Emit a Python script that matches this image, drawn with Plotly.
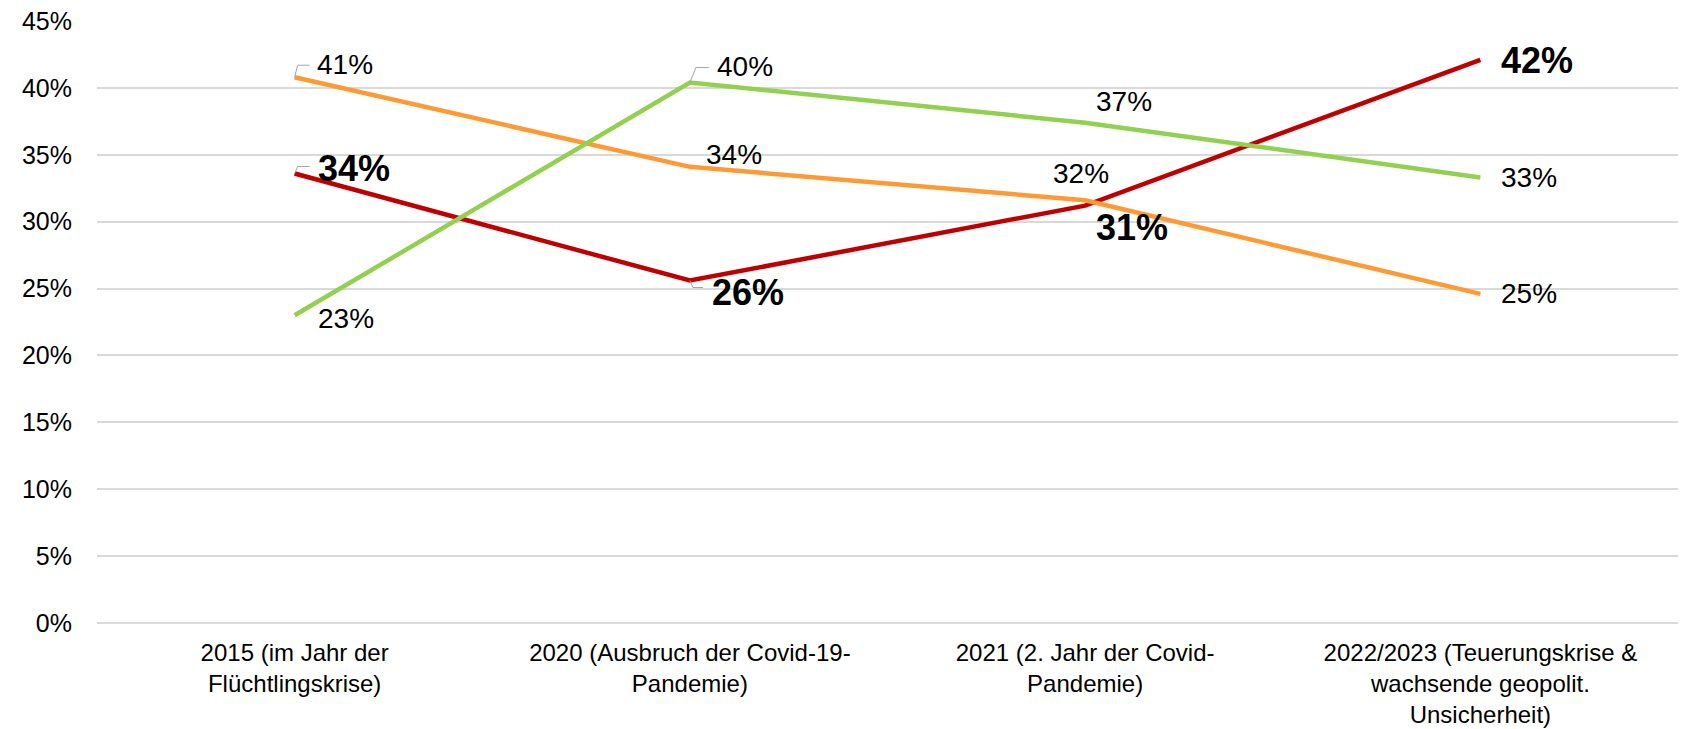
import plotly.graph_objects as go

# ---------------- data ----------------
categories = [
    "2015 (im Jahr der<br>Flüchtlingskrise)",
    "2020 (Ausbruch der Covid-19-<br>Pandemie)",
    "2021 (2. Jahr der Covid-<br>Pandemie)",
    "2022/2023 (Teuerungskrise &<br>wachsende geopolit.<br>Unsicherheit)",
]
red_values = [33.6, 25.6, 31.2, 42.1]
orange_values = [40.8, 34.1, 31.6, 24.6]
green_values = [23.0, 40.4, 37.4, 33.3]
y_ticks = [0, 5, 10, 15, 20, 25, 30, 35, 40, 45]

# ---------------- style ----------------
FONT = "Liberation Sans, Arial, sans-serif"
series = [
    # name, values, color, bold labels, label offsets (xshift, yshift) per point
    ("rot", red_values, "#C00000", True, [(21, 5), (20, -12), (9, -22), (19, -1)]),
    ("orange", orange_values, "#FF9933", False, [(20, 13), (14, 12), (-34, 27), (19, 0)]),
    ("grün", green_values, "#92D050", False, [(21, -3), (25, 16), (9, 21), (19, 0)]),
]
# leader lines (pixel paths relative to the point), keyed by (series index, point index)
leaders = {
    (0, 0): "M 0,0 L 3,7 L 15,7",
    (1, 0): "M 0,0 L 3,12 L 15,12",
    (2, 1): "M 0,0 L 6,15 L 19,15",
    (0, 1): "M 0,0 L 3,-7 L 13,-7",
}

x_idx = list(range(len(categories)))

fig = go.Figure()
for name, vals, color, bold, offs in series:
    fig.add_trace(go.Scatter(
        x=x_idx, y=vals, mode="lines", name=name,
        line=dict(color=color, width=4.5),
        hoverinfo="skip", showlegend=False,
    ))

annotations = []
for si, (name, vals, color, bold, offs) in enumerate(series):
    for i, v in enumerate(vals):
        txt = f"{int(v + 0.5)}%"
        if bold:
            txt = f"<b>{txt}</b>"
        annotations.append(dict(
            x=i, y=v, xref="x", yref="y", text=txt, showarrow=False,
            xanchor="left", yanchor="middle",
            xshift=offs[i][0], yshift=offs[i][1],
            font=dict(family=FONT, size=36 if bold else 28, color="#000000"),
        ))

shapes = []
for (si, pi), path in leaders.items():
    shapes.append(dict(
        type="path", xref="x", yref="y",
        xsizemode="pixel", ysizemode="pixel",
        xanchor=pi, yanchor=series[si][1][pi],
        path=path, line=dict(color="#A6A6A6", width=1),
    ))

fig.update_layout(
    width=1683, height=729,
    margin=dict(l=97, r=5, t=21, b=106),
    paper_bgcolor="white", plot_bgcolor="white",
    font=dict(family=FONT, size=25, color="#000000"),
    annotations=annotations, shapes=shapes,
)
fig.update_xaxes(
    range=[-0.5, 3.5], tickmode="array", tickvals=x_idx, ticktext=categories,
    showgrid=False, zeroline=False, showline=False, ticks="",
    tickfont=dict(family=FONT, size=24, color="#000000"),
    ticklabelstandoff=13, automargin=False,
)
fig.update_yaxes(
    range=[0, 45], tickmode="array", tickvals=y_ticks,
    ticktext=[f"{t}%" for t in y_ticks],
    showgrid=True, gridcolor="#D9D9D9", gridwidth=1.5,
    zeroline=True, zerolinecolor="#D9D9D9", zerolinewidth=1.5,
    showline=False, ticks="", ticklabelstandoff=24, automargin=False,
    tickfont=dict(family=FONT, size=25, color="#000000"),
)

fig.write_html("out.html")
